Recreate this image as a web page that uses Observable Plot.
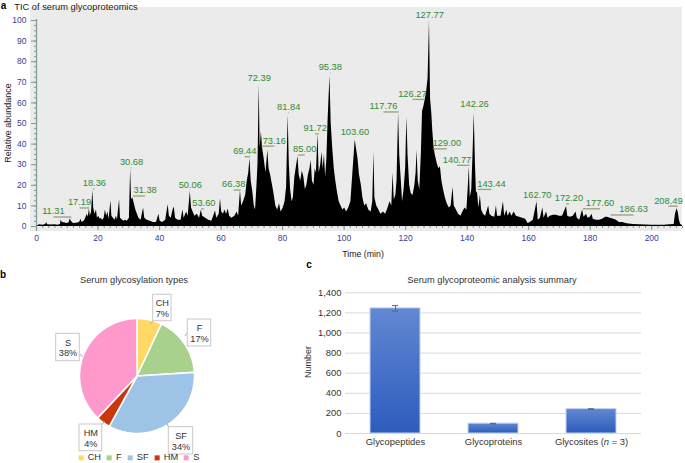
<!DOCTYPE html>
<html><head><meta charset="utf-8">
<script src="https://cdn.jsdelivr.net/npm/d3@7"></script>
<script src="https://cdn.jsdelivr.net/npm/@observablehq/plot@0.6"></script>
<style>
body{margin:0;background:#fff;font-family:"Liberation Sans",Arial,sans-serif;}
#root{position:relative;width:685px;height:463px;overflow:hidden;background:#fff;}
.abs{position:absolute;white-space:nowrap;line-height:1;}
.panel{position:absolute;}
.panel svg{display:block;background:transparent;}
</style></head><body><div id="root"></div><script>
// ---------- Panel a: TIC chromatogram ----------
const ticTime = [0,0.5,1,2,3,3.3,3.6,5,6,7,7.8,8.0,8.4,9,10,10.6,11.0,11.3,12,13,14,14.5,14.8,15.5,16,16.5,16.8,17.2,17.5,17.9,18.3,18.6,19,19.5,19.8,20.2,20.7,21,21.5,22,22.4,22.8,23.2,23.6,24.2,24.5,25,25.5,26,26.3,27,27.3,28,28.5,29,29.5,30.2,30.6,30.9,31.3,31.8,32.3,32.8,33.3,34,34.8,35.2,36,37,38,39,39.8,40.2,41,42,42.8,43.2,43.8,44.4,44.8,45.2,46,47,47.6,48,48.8,49.3,50.0,50.4,50.9,51.5,52.3,53,53.6,54,55,56,57,58.2,58.6,59.4,59.8,60.2,60.8,61.2,61.8,62.3,62.8,63.5,64.5,65.2,65.7,66.3,66.7,67.3,68,68.5,69,69.4,69.8,70.3,70.8,71.2,71.6,72.0,72.4,72.7,73.1,73.5,74,74.6,75.2,75.6,76.1,76.6,77.2,77.8,78.4,79,79.5,80.2,80.8,81.3,81.8,82.2,82.6,83.1,83.5,84,84.4,85.0,85.4,85.9,86.4,86.9,87.4,87.9,88.4,88.9,89.3,89.7,90.2,90.6,91.0,91.5,91.9,92.4,92.8,93.2,93.6,94.0,94.4,94.8,95.4,95.8,96.3,96.8,97.3,97.8,98.4,99,99.6,100.2,100.8,101.5,102.2,102.8,103.6,104.0,104.5,105,105.6,106.1,106.7,107.3,108,108.8,109.3,109.7,110.0,110.6,111.3,112,112.8,113.5,114.3,114.9,115.5,115.9,116.3,116.8,117.2,117.7,118.1,118.6,119.0,119.5,120.0,120.4,120.8,121.3,121.8,122.4,123,123.4,123.7,124.1,124.6,125.1,125.5,125.9,126.3,126.8,127.3,127.75,128.1,128.5,128.8,129.2,129.6,130.2,130.8,131.3,131.8,132.3,132.9,133.5,134.2,134.8,135.4,135.8,136.5,137.2,138,138.6,139.3,139.9,140.4,140.7,141.0,141.5,141.9,142.3,142.7,143.0,143.4,143.8,144.3,144.7,145.3,146,147.0,147.4,148,149,149.5,149.9,151,151.8,152.2,152.9,153.3,154,154.5,155.3,156,157,158,159,159.8,160.5,161.5,162.7,163.1,163.8,164.6,165,165.8,166.3,167,168,169,170,171,172.3,172.7,173.5,174.5,175.4,175.8,176.6,177.5,178,178.8,179.3,180,180.6,181,182,183,184,185,185.6,186.5,187.7,188.5,189.5,190.5,192,194,196,198,200,202,204,206,207.3,207.7,208.2,208.6,209.0,209.4,210];
const ticAbundance = [0,0.5,0.8,0.6,1.0,2.0,0.8,0.7,0.8,0.6,1.0,3.2,2.0,1.8,1.5,1.8,3.8,2.5,1.5,1.6,2.0,3.5,2.0,2.5,4,6,4.5,8.5,5,7,17.5,9,6,8,4,5,3.5,4,3,4,8,5,7,3.5,12.5,5,4,3,5,3,13,4,3,2.5,3,2.5,4,28,13,14,11,8,6,4,3,9,4,3,2.5,2,2,6,2.5,2,3,10.5,5,4,8,9.5,4,3,3,8,4,7,5,17,9,7,5,6,4,8,5,4,3,2.5,7.5,4,6,13.5,7,6,8,6,8.5,5,4,5,7,5,17.5,10,12,15,22,26,33,22,17,10,8,18,30,69,38,46,38,33,26,37,28,25,21,16,10,8,11,7,9,12,19,54,30,18,12,14,24,28,34,25,22,27,24,18,20,25,28,32,22,20,28,26,45,26,30,36,28,35,24,33,52,73,50,38,28,22,17,12,10,8,9,7,9,12,25,42,38,33,25,20,14,10,11,8,7,12,36,14,10,8,6,7,6,9,12,10,26,13,15,22,55,34,22,12,18,28,53,34,20,16,15,20,26,37,22,18,35,56,58,61,65,72,100,62,55,47,39,35,31,28,29,22,18,14,11,9,10,19,10,8,6,5,7,9,8,20,29,14,18,35,55,30,17,16,9,15,8,6,5,10,6,5,4.5,10,5,5,12,5,8,5,7,5,7,5,4.5,4,3.5,1.5,2,3,12,3,4,9,4,7,4,5,5.5,5.5,5,5,9.7,5,4.5,5,7,4,3,8,4.5,6,4,4.5,6,3.5,3,3,3.5,4.5,4.5,4,3.5,3,2,2,1.3,1,0.8,0.7,0.6,0.6,0.6,0.8,1,6,8.6,7,3,1,0.5];
const peakLabels = ["11.31","17.19","18.36","30.68","31.38","50.06","53.60","66.38","69.44","72.39","73.16","81.84","85.00","91.72","95.38","103.60","117.76","126.27","127.77","129.00","140.77","142.26","143.44","162.70","172.20","177.60","186.63","208.49"];
const labelTime = [5.5,14.0,18.8,30.9,35.3,50.0,54.4,64.1,67.7,72.4,77.3,82.0,87.2,90.6,95.5,103.5,112.8,122.2,127.8,133.4,136.7,142.4,147.9,162.8,173.1,183.2,194.1,205.4];
const labelAbundance = [7.3,11.7,20.9,31.1,17.5,20.2,11.3,20.4,36.6,72.2,41.7,57.9,37.4,47.7,77.2,46.1,58.3,64.4,102.6,40.4,32.4,59.6,20.7,15.4,13.7,11.3,8.3,12.6];
const timeTicks = [0,20,40,60,80,100,120,140,160,180,200];
const abundanceTicks = [0,10,20,30,40,50,60,70,80,90,100];

// ---------- Panel b: glycosylation types ----------
const glycoTypes = ["CH","F","SF","HM","S"];
const glycoShare = [7,17,34,4,38];
const glycoColors = ["#ffd966","#a9d18e","#9dc3e6","#c8380c","#ff99cc"];

// ---------- Panel c: summary ----------
const summaryCategories = ["Glycopeptides","Glycoproteins","Glycosites (n = 3)"];
const summaryCounts = [1245, 98, 243];
const summaryErrors = [28, 3, 3];
const countTicks = [0,200,400,600,800,1000,1200,1400];

const root = document.getElementById("root");
const FONT = '"Liberation Sans", Arial, sans-serif';
function addText(txt, x, y, o = {}) {
  const d = document.createElement("div");
  d.className = "abs";
  d.textContent = txt;
  d.style.left = x + "px"; d.style.top = y + "px";
  d.style.fontSize = (o.size || 9.3) + "px";
  d.style.color = o.color || "#222";
  if (o.bold) d.style.fontWeight = "bold";
  d.style.transform = "translate(-50%,-50%)" + (o.rotate ? ` rotate(${o.rotate}deg)` : "");
  root.appendChild(d);
  return d;
}
function addPanel(el, left, top) {
  const w = document.createElement("div");
  w.className = "panel"; w.style.left = left + "px"; w.style.top = top + "px";
  w.appendChild(el); root.appendChild(w);
}

// Panel a
const tic = ticTime.map((t, i) => ({t, a: ticAbundance[i]}));
const peaks = peakLabels.map((s, i) => ({label: s, t: +s, lt: labelTime[i], la: labelAbundance[i]}));
const axisCol = "#7f9c93", tickLabCol = "#3b3a9e";
const chartA = Plot.plot({
  width: 685, height: 262, marginLeft: 36, marginRight: 3, marginTop: 20, marginBottom: 36,
  x: {domain: [0, 210]}, y: {domain: [0, 100]},
  style: {fontFamily: FONT, fontSize: "8.5px", background: "transparent"},
  marks: [
    Plot.rect([0], {x1: -1.95, x2: 210, y1: -2.43, y2: 106.3, fill: "#ebebeb"}),
    Plot.areaY(tic, {x: "t", y: "a", fill: "black", curve: "linear"}),
    Plot.ruleX([0], {y1: -2.4, y2: 100.5, stroke: axisCol, strokeWidth: 1.2}),
    Plot.axisY({ticks: d3.range(0, 101, 2.5), tickSize: 2, tickFormat: () => "", color: axisCol, label: null}),
    Plot.axisY({ticks: abundanceTicks, tickSize: 5, tickFormat: () => "", color: axisCol, label: null}),
    Plot.axisY({ticks: abundanceTicks, tickSize: 0, tickPadding: 10, color: tickLabCol, label: null, fontSize: 8.5}),
    Plot.axisX({ticks: d3.range(0, 211, 2), tickSize: 2, tickFormat: () => "", color: axisCol, label: null}),
    Plot.axisX({ticks: timeTicks, tickSize: 4, tickFormat: () => "", color: axisCol, label: null}),
    Plot.axisX({ticks: timeTicks, tickSize: 0, tickPadding: 8, color: tickLabCol, label: null, fontSize: 8.5}),
    Plot.link(peaks, {x1: "t", x2: "lt", y1: d => d.la - 2.7, y2: d => d.la - 2.7, stroke: "#9aa584", strokeWidth: 1.4}),
    Plot.text(peaks, {x: "lt", y: "la", text: "label", fill: "#2f8a2f", fontSize: 9.3})
  ]
});
addPanel(chartA, 0, 0);
addText("a", 3.5, 6, {bold: true, size: 10, color: "#000"});
addText("TIC of serum glycoproteomics", 76, 8, {size: 9.3, color: "#222"});
addText("Relative abundance", 8, 123, {size: 9, rotate: -90, color: "#222"});
addText("Time (min)", 363, 254, {size: 8.8, color: "#222"});

// Panel b: pie built from glycoShare
const R = 57.5;
const arcs = d3.pie().sort(null)(glycoShare);
const slicePts = [];
arcs.forEach((a, i) => {
  const key = glycoTypes[i];
  slicePts.push({key, x: 0, y: 0});
  const n = Math.max(4, Math.ceil((a.endAngle - a.startAngle) / 0.02));
  for (let k = 0; k <= n; k++) {
    const t = a.startAngle + (a.endAngle - a.startAngle) * k / n;
    slicePts.push({key, x: R * Math.sin(t), y: -R * Math.cos(t)});
  }
  slicePts.push({key, x: 0, y: 0});
});
// label box layout (pixel offsets from pie centre)
const boxLayout = {
  CH: {x1: 16.2, x2: 34.5, y1: -81.2, y2: -54.8, l: [16.2, -55, 12.8, -51.5]},
  F:  {x1: 50.8, x2: 74.2, y1: -56.5, y2: -29.5, l: [50.8, -44, 48, -40]},
  SF: {x1: 31.8, x2: 56.2, y1: 51.2, y2: 78.5, l: [31.8, 51.2, 29.5, 47.2]},
  HM: {x1: -57.5, x2: -34.8, y1: 48.5, y2: 75.2, l: [-34.8, 48.5, -32.5, 45.2]},
  S:  {x1: -80.8, x2: -57.2, y1: -42.2, y2: -14.8, l: [-57.2, -22, -54.5, -19]}
};
const pieLabels = glycoTypes.map((k, i) => ({key: k, text: `${k}\n${glycoShare[i]}%`, ...boxLayout[k]}));
const chartB = Plot.plot({
  width: 290, height: 200, margin: 0,
  x: {domain: [-136.5, 153.5], axis: null},
  y: {domain: [87.5, -112.5], axis: null},
  color: {domain: glycoTypes, range: glycoColors},
  style: {fontFamily: FONT, fontSize: "9.2px", background: "transparent"},
  marks: [
    Plot.line(slicePts, {x: "x", y: "y", z: "key", fill: "key", stroke: "white", strokeWidth: 1.6, strokeLinejoin: "round"}),
    Plot.link(pieLabels, {x1: d => d.l[0], y1: d => d.l[1], x2: d => d.l[2], y2: d => d.l[3], stroke: "#a6a6a6", strokeWidth: 1}),
    Plot.rect(pieLabels, {x1: "x1", x2: "x2", y1: "y1", y2: "y2", fill: "white", stroke: "#c8c8c8", strokeWidth: 1}),
    Plot.text(pieLabels, {x: d => (d.x1 + d.x2) / 2, y: d => (d.y1 + d.y2) / 2, text: "text", lineHeight: 1.15, fill: "#333", fontSize: 9.2})
  ]
});
addPanel(chartB, 0, 263);
addText("b", 3, 275, {bold: true, size: 10, color: "#000"});
addText("Serum glycosylation types", 134, 281, {size: 9.3, color: "#333"});
// legend
const leg = document.createElement("div");
leg.className = "abs";
leg.style.left = "139px"; leg.style.top = "458px"; leg.style.transform = "translate(-50%,-50%)";
leg.style.fontSize = "9.3px"; leg.style.color = "#333"; leg.style.display = "flex"; leg.style.alignItems = "center";
glycoTypes.forEach((k, i) => {
  const sw = document.createElement("span");
  sw.style.cssText = `display:inline-block;width:5px;height:5px;background:${glycoColors[i]};margin:0 4px 0 ${i ? 6 : 0}px`;
  const tx = document.createElement("span"); tx.textContent = k;
  leg.appendChild(sw); leg.appendChild(tx);
});
root.appendChild(leg);

// Panel c
const summary = summaryCategories.map((c, i) => ({cat: c, count: summaryCounts[i], err: summaryErrors[i]}));
const gradient = () => {
  const defs = d3.create("svg:defs");
  const g = defs.append("linearGradient").attr("id", "barGrad").attr("x1", 0).attr("y1", 0).attr("x2", 0).attr("y2", 1);
  g.append("stop").attr("offset", "0%").attr("stop-color", "#6288d3");
  g.append("stop").attr("offset", "100%").attr("stop-color", "#2d5cbd");
  return defs.node();
};
const errCol = "#55688f";
const chartC = Plot.plot({
  width: 395, height: 200, marginLeft: 55, marginRight: 44, marginTop: 29.3, marginBottom: 30,
  x: {domain: summaryCategories, paddingInner: 0.49, paddingOuter: 0.245},
  y: {domain: [0, 1400]},
  style: {fontFamily: FONT, fontSize: "9.4px", color: "#333", background: "transparent"},
  marks: [
    gradient,
    Plot.gridY({ticks: countTicks, stroke: "#d9d9d9", strokeOpacity: 1}),
    Plot.barY(summary, {x: "cat", y: "count", fill: "url(#barGrad)", stroke: "#c3d3ef", strokeWidth: 1}),
    Plot.ruleX(summary, {x: "cat", y1: d => d.count - d.err, y2: d => d.count + d.err, stroke: errCol}),
    Plot.tickY(summary, {x: "cat", y: d => d.count + d.err, insetLeft: 22, insetRight: 22, stroke: errCol}),
    Plot.tickY(summary, {x: "cat", y: d => d.count - d.err, insetLeft: 22, insetRight: 22, stroke: errCol}),
    Plot.axisY({ticks: countTicks, tickSize: 0, tickPadding: 4, tickFormat: d3.format(","), label: null}),
    Plot.axisX({tickSize: 0, tickPadding: 5, label: null})
  ]
});
addPanel(chartC, 290, 263);
chartC.querySelectorAll("text").forEach(t => {
  if (t.textContent === "Glycosites (n = 3)") {
    t.textContent = "";
    const parts = [["Glycosites (", null], ["n", "italic"], [" = 3)", null]];
    parts.forEach(([s, st]) => {
      const ts = document.createElementNS("http://www.w3.org/2000/svg", "tspan");
      ts.textContent = s; if (st) ts.setAttribute("font-style", st);
      t.appendChild(ts);
    });
  }
});
addText("c", 309, 265, {bold: true, size: 10, color: "#000"});
addText("Serum glycoproteomic analysis summary", 492, 281, {size: 9.3, color: "#333"});
addText("Number", 308, 362, {size: 9, rotate: -90, color: "#333"});
</script></body></html>
